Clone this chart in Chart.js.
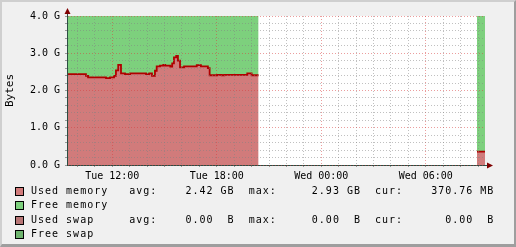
<!DOCTYPE html>
<html>
<head>
<meta charset="utf-8">
<script src="https://cdn.jsdelivr.net/npm/chart.js@4.4.1/dist/chart.umd.min.js"></script>
<style>
  html, body { margin: 0; padding: 0; background: #f0f0f0; }
  #frame {
    position: absolute; left: 0; top: 0; width: 516px; height: 247px; box-sizing: border-box;
    border-top: 2px solid #cfcfcf; border-left: 2px solid #cfcfcf;
    border-right: 2px solid #9e9e9e; border-bottom: 3px solid #9e9e9e;
  }
  #c { position: absolute; left: 0; top: 0; }
  #legend { position: absolute; left: 0; top: 184px; width: 516px; }
  .row { position: relative; height: 14.3px; }
  .sw { position: absolute; left: 15px; top: 3px; width: 7px; height: 7px; border: 1px solid #000; }
  .txt {
    position: absolute; left: 31px; top: 0; white-space: pre; color: #000;
    font: 10px "DejaVu Sans Mono", monospace; letter-spacing: 1px; line-height: 14.3px;
  }
</style>
</head>
<body>
<div id="frame"></div>
<canvas id="c" width="516" height="190"></canvas>
<div id="legend"></div>
<script>
// time in hours since Tue 00:00, window 09:24 Tue .. 09:24 Wed
const xMin = 9.4;
const xMax = 33.4;
const tickHours = [12, 18, 24, 30];
const tickLabels = ["Tue 12:00", "Tue 18:00", "Wed 00:00", "Wed 06:00"];
const yTickValues = [0, 1, 2, 3, 4];
const yTickLabels = ["0.0 G", "1.0 G", "2.0 G", "3.0 G", "4.0 G"];

// samples (step start times) and used memory in GB, null = no data
const hours = [9.40, 10.49, 10.61, 11.64, 11.87, 12.10, 12.21, 12.34, 12.50, 12.73,
  13.02, 13.94, 14.12, 14.28, 14.45, 14.55, 14.74, 14.93, 15.04, 15.33,
  15.44, 15.54, 15.67, 15.77, 15.89, 16.12, 16.85, 17.09, 17.49, 17.59,
  18.03, 18.28, 18.43, 19.75, 20.00, 20.40, 20.42, 32.94, 33.40];
const usedMemory = [2.44, 2.39, 2.35, 2.33, 2.35, 2.39, 2.54, 2.69, 2.46, 2.44,
  2.46, 2.44, 2.46, 2.39, 2.53, 2.65, 2.67, 2.69, 2.67, 2.64,
  2.73, 2.89, 2.93, 2.80, 2.62, 2.65, 2.68, 2.65, 2.60, 2.41,
  2.42, 2.41, 2.42, 2.46, 2.41, 2.41, null, 0.36, 0.36];
const memTotal = 4.0;

const legendNames = ["Used memory", "Free memory", "Used swap", "Free swap"];
const legendColors = ["#d17b7b", "#7dd07d", "#b87676", "#6fb46f"];
const legendAvg = ["2.42 GB", null, "0.00  B", null];
const legendMax = ["2.93 GB", null, "0.00  B", null];
const legendCur = ["370.76 MB", null, "0.00  B", null];

const usedPts = hours.map((h, i) => ({ x: h, y: usedMemory[i] }));
const freePts = hours.map((h, i) => ({ x: h, y: usedMemory[i] == null ? null : memTotal - usedMemory[i] }));

// one grid line per hour
const hourTicks = [];
for (let h = Math.ceil(xMin); h <= xMax; h++) hourTicks.push(h);

const isInt = v => Math.abs(v - Math.round(v)) < 1e-6;
const dotted = [1, 2];
const majorGrid = "rgba(215,60,60,0.5)";
const minorGrid = "rgba(130,130,130,0.5)";

const canvasBg = {
  id: "canvasBg",
  beforeDraw(chart) {
    const { ctx, chartArea: a } = chart;
    ctx.save();
    ctx.fillStyle = "#ffffff";
    ctx.fillRect(a.left, a.top, a.right - a.left, a.bottom - a.top);
    ctx.restore();
  }
};

const arrows = {
  id: "arrows",
  afterDraw(chart) {
    const { ctx, chartArea: a } = chart;
    ctx.save();
    ctx.strokeStyle = "#2c4d43";
    ctx.beginPath();
    ctx.moveTo(a.left + 0.5, a.top); ctx.lineTo(a.left + 0.5, a.top - 5);
    ctx.moveTo(a.right, a.bottom + 0.5); ctx.lineTo(a.right + 4, a.bottom + 0.5);
    ctx.stroke();
    ctx.fillStyle = "#7f0000";
    ctx.beginPath();
    ctx.moveTo(a.left + 0.5, a.top - 8);
    ctx.lineTo(a.left - 2.5, a.top - 2);
    ctx.lineTo(a.left + 3.5, a.top - 2);
    ctx.closePath();
    ctx.fill();
    ctx.beginPath();
    ctx.moveTo(a.right + 8, a.bottom + 0.5);
    ctx.lineTo(a.right + 2, a.bottom - 2.5);
    ctx.lineTo(a.right + 2, a.bottom + 3.5);
    ctx.closePath();
    ctx.fill();
    ctx.restore();
  }
};

Chart.defaults.font.family = "'DejaVu Sans Mono', monospace";
Chart.defaults.font.size = 10;
Chart.defaults.color = "#000";

new Chart(document.getElementById("c"), {
  type: "line",
  data: {
    datasets: [
      {
        label: legendNames[0],
        data: usedPts,
        stepped: true,
        borderColor: "#b00000",
        borderWidth: 1.8,
        backgroundColor: legendColors[0],
        fill: "origin",
        pointRadius: 0,
        spanGaps: false
      },
      {
        label: legendNames[1],
        data: freePts,
        stepped: true,
        borderWidth: 0,
        borderColor: "rgba(0,0,0,0)",
        backgroundColor: legendColors[1],
        fill: "-1",
        pointRadius: 0,
        spanGaps: false
      }
    ]
  },
  options: {
    responsive: false,
    animation: false,
    layout: { padding: { left: 4, top: 16, right: 31, bottom: 0 } },
    plugins: { legend: { display: false }, tooltip: { enabled: false } },
    scales: {
      x: {
        type: "linear",
        min: xMin,
        max: xMax,
        afterBuildTicks: s => { s.ticks = hourTicks.map(v => ({ value: v })); },
        afterFit: s => { s.height = 25; },
        ticks: {
          autoSkip: false,
          maxRotation: 0,
          padding: 3,
          callback: v => {
            const i = tickHours.indexOf(Math.round(v));
            return i >= 0 ? tickLabels[i] : "";
          }
        },
        grid: {
          z: 1,
          tickLength: 2,
          tickColor: "#999",
          color: ctx => ctx.tick && tickHours.includes(Math.round(ctx.tick.value)) ? majorGrid : minorGrid
        },
        border: { z: 1, color: "#2c4d43", dash: dotted }
      },
      y: {
        min: 0,
        max: 4,
        stacked: true,
        afterFit: s => { s.width = 63; },
        title: {
          display: true,
          text: "Bytes",
          padding: 0,
          font: { size: 11 }
        },
        ticks: {
          stepSize: 0.2,
          autoSkip: false,
          padding: 5,
          callback: v => {
            const i = yTickValues.findIndex(t => Math.abs(t - v) < 1e-6);
            return i >= 0 ? yTickLabels[i] : "";
          }
        },
        grid: {
          z: 1,
          tickLength: 2,
          tickColor: "#999",
          color: ctx => ctx.tick && isInt(ctx.tick.value) ? majorGrid : minorGrid
        },
        border: { z: 1, color: "#2c4d43", dash: dotted }
      }
    }
  },
  plugins: [canvasBg, arrows]
});

// legend, monospace columns
const pad = (s, n) => s + " ".repeat(Math.max(0, n - s.length));
const lpad = (s, n) => " ".repeat(Math.max(0, n - s.length)) + s;
const legend = document.getElementById("legend");
legendNames.forEach((name, i) => {
  let line = pad(name, 14);
  if (legendAvg[i] != null) {
    line += "avg:" + lpad(legendAvg[i], 11) + "  max:" + lpad(legendMax[i], 12) + "  cur:" + lpad(legendCur[i], 13);
  }
  const row = document.createElement("div");
  row.className = "row";
  row.innerHTML = '<div class="sw" style="background:' + legendColors[i] + '"></div><div class="txt"></div>';
  row.querySelector(".txt").textContent = line;
  legend.appendChild(row);
});
</script>
</body>
</html>
